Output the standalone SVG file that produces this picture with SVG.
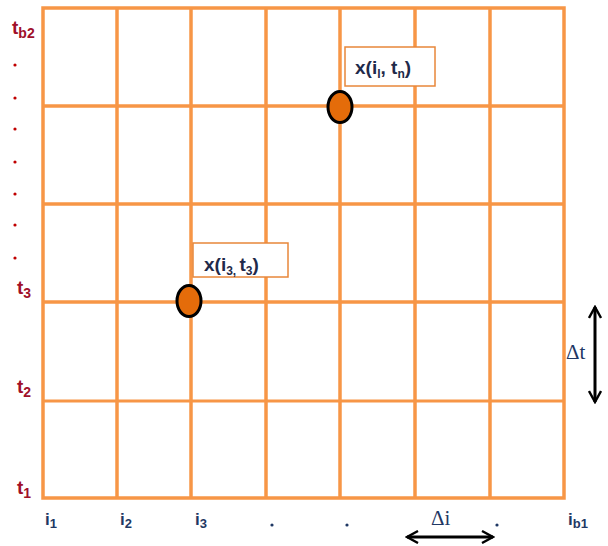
<svg xmlns="http://www.w3.org/2000/svg" width="608" height="546" viewBox="0 0 608 546">
<defs>
<marker id="ah" viewBox="0 0 14 14" refX="12" refY="7" markerWidth="14" markerHeight="14" markerUnits="userSpaceOnUse" orient="auto-start-reverse">
<path d="M1,1 L12,7 L1,13" fill="none" stroke="#000" stroke-width="2.4"/>
</marker>
</defs>
<style>
.g{stroke:#F79646;stroke-width:3.5;fill:none}
.pt{fill:#E46C0A;stroke:#000;stroke-width:3}
.box{fill:#fff;stroke:#E8873A;stroke-width:1.5}
.lbl{font-family:"Liberation Sans",Arial,sans-serif;font-weight:bold;fill:#1F2A4A;font-size:19px}
.red{font-family:"Liberation Sans",Arial,sans-serif;font-weight:bold;fill:#A0102A;font-size:19px}
.nav{font-family:"Liberation Sans",Arial,sans-serif;font-weight:bold;fill:#1F3864;font-size:17px}
.sub{font-size:12px}
.dot{fill:#C00000}
.del{font-family:"Liberation Serif","Times New Roman",serif;fill:#1F3864;font-size:21px}
.arr{stroke:#000;stroke-width:3;fill:none}
</style>
<g id="grid">
<rect class="g" x="43" y="8" width="521" height="490"/>
<line class="g" x1="117" y1="8" x2="117" y2="498"/>
<line class="g" x1="191" y1="8" x2="191" y2="498"/>
<line class="g" x1="266" y1="8" x2="266" y2="498"/>
<line class="g" x1="340" y1="8" x2="340" y2="498"/>
<line class="g" x1="415" y1="8" x2="415" y2="498"/>
<line class="g" x1="490" y1="8" x2="490" y2="498"/>
<line class="g" x1="43" y1="106" x2="564" y2="106"/>
<line class="g" x1="43" y1="204" x2="564" y2="204"/>
<line class="g" x1="43" y1="302" x2="564" y2="302"/>
<line class="g" x1="43" y1="401" x2="564" y2="401" style="stroke-width:3"/>
</g>
<g id="label-iltn">
<rect class="box" x="345" y="47" width="90" height="39"/>
<text class="lbl" x="355" y="74">x(i<tspan class="sub" dy="4">l</tspan><tspan dy="-4">, t</tspan><tspan class="sub" dy="4">n</tspan><tspan dy="-4">)</tspan></text>
</g>
<g id="point-iltn">
<ellipse class="pt" cx="340" cy="107" rx="12" ry="15.5"/>
</g>
<g id="label-i3t3">
<rect class="box" x="193" y="243" width="95" height="34"/>
<text class="lbl" x="204" y="271">x(i<tspan class="sub" dy="4">3, </tspan><tspan dy="-4">t</tspan><tspan class="sub" dy="4">3</tspan><tspan dy="-4">)</tspan></text>
</g>
<g id="point-i3t3">
<ellipse class="pt" cx="189" cy="301" rx="12" ry="15.5"/>
</g>
<g id="t-axis">
<text class="red" x="12" y="34">t<tspan class="sub" style="font-size:14px" dy="4">b2</tspan></text>
<circle class="dot" cx="15" cy="65" r="1.6"/>
<circle class="dot" cx="15" cy="98" r="1.6"/>
<circle class="dot" cx="15" cy="129" r="1.6"/>
<circle class="dot" cx="15" cy="162" r="1.6"/>
<circle class="dot" cx="15" cy="194" r="1.6"/>
<circle class="dot" cx="15" cy="225" r="1.6"/>
<circle class="dot" cx="15" cy="258" r="1.6"/>
<text class="red" x="17" y="294">t<tspan class="sub" style="font-size:14px" dy="4">3</tspan></text>
<text class="red" x="17" y="393">t<tspan class="sub" style="font-size:14px" dy="4">2</tspan></text>
<text class="red" x="17" y="494">t<tspan class="sub" style="font-size:14px" dy="4">1</tspan></text>
</g>
<g id="i-axis">
<text class="nav" x="45" y="525">i<tspan class="sub" style="font-size:13px" dy="3">1</tspan></text>
<text class="nav" x="120" y="525">i<tspan class="sub" style="font-size:13px" dy="3">2</tspan></text>
<text class="nav" x="195" y="525">i<tspan class="sub" style="font-size:13px" dy="3">3</tspan></text>
<circle cx="272" cy="525" r="1.6" fill="#1F3864"/>
<circle cx="347" cy="525" r="1.6" fill="#1F3864"/>
<circle cx="497" cy="525" r="1.6" fill="#1F3864"/>
<text class="nav" x="568" y="525">i<tspan class="sub" style="font-size:13px" dy="3">b1</tspan></text>
</g>
<g id="connectors">
<line class="arr" x1="407" y1="537" x2="493" y2="537" marker-start="url(#ah)" marker-end="url(#ah)"/>
<line class="arr" x1="595" y1="307" x2="595" y2="402" marker-start="url(#ah)" marker-end="url(#ah)"/>
</g>
<g id="deltas">
<text class="del" x="431" y="525">Δi</text>
<text class="del" x="566" y="359">Δt</text>
</g>
</svg>
